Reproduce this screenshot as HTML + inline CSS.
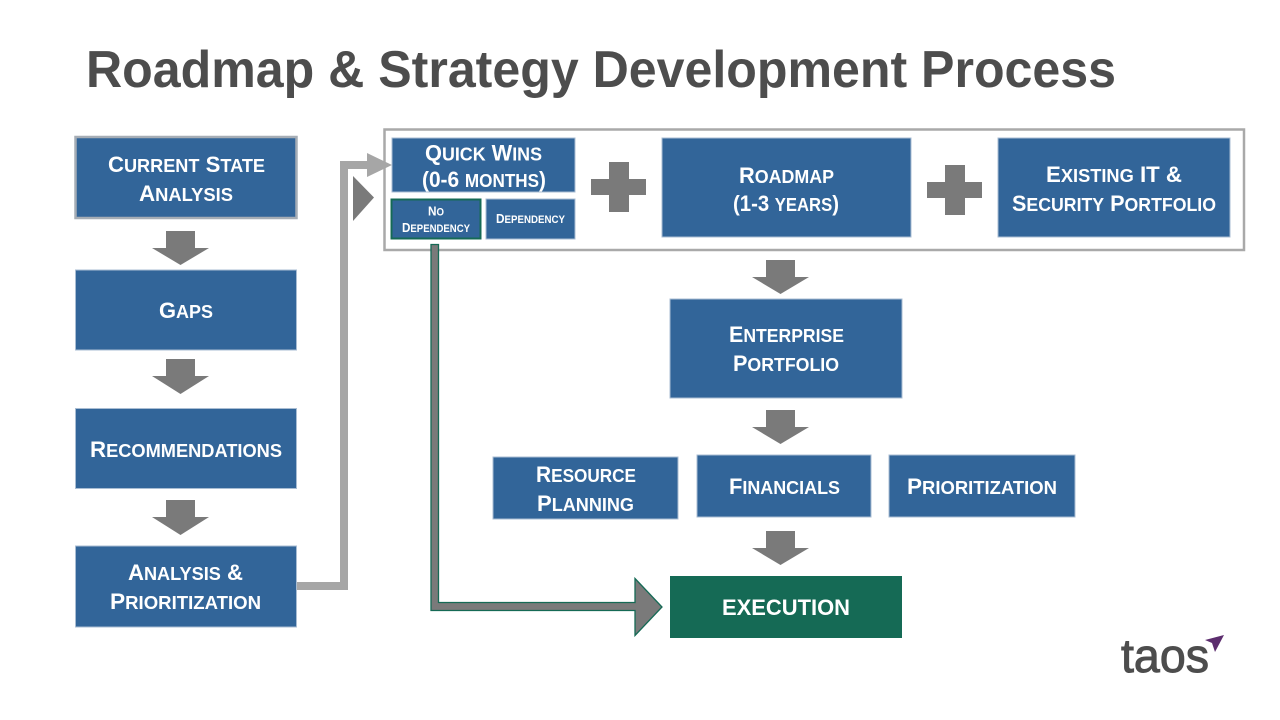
<!DOCTYPE html>
<html><head><meta charset="utf-8"><style>
html,body{margin:0;padding:0;background:#fff;width:1280px;height:720px;overflow:hidden}
svg{display:block}
text{font-family:"Liberation Sans",Arial,sans-serif;font-weight:700}
text.w{fill:#fff}
tspan.s{font-size:.82em}
.b{fill:#326599;stroke:#a9bdd3;stroke-width:1}
.g{fill:#7a7a7a}
</style></head><body>
<svg width="1280" height="720" viewBox="0 0 1280 720" xmlns="http://www.w3.org/2000/svg">
<rect width="1280" height="720" fill="#fff"/>
<text x="86" y="87" font-size="52" fill="#4d4d4d" textLength="1030" lengthAdjust="spacingAndGlyphs">Roadmap &amp; Strategy Development Process</text>

<rect x="384.500" y="129.500" width="859.500" height="120.500" fill="#fff" stroke="#a9a9a9" stroke-width="2.500"/>

<rect x="75.500" y="137" width="221" height="81" fill="#326599" stroke="#a6adb5" stroke-width="2.500"/>
<rect class="b" x="75.500" y="270" width="221" height="80"/>
<rect class="b" x="75.500" y="408.500" width="221" height="80"/>
<rect class="b" x="75.500" y="546" width="221" height="81"/>

<polygon class="g" points="166,231 195,231 195,248 209,248 180.500,265 152,248 166,248"/>
<polygon class="g" points="166,359 195,359 195,376 209,376 180.500,394 152,376 166,376"/>
<polygon class="g" points="166,500 195,500 195,517 209,517 180.500,535 152,517 166,517"/>

<polygon fill="#a6a6a6" points="297,582 340,582 340,161 367,161 367,153 392,165 367,177 367,169 348,169 348,590 297,590"/>
<polygon class="g" points="353,176 374,197.500 353,221"/>

<rect class="b" x="392" y="138" width="183" height="54"/>
<rect x="391.500" y="199.500" width="89" height="39" fill="#326599" stroke="#156a55" stroke-width="2"/>
<rect class="b" x="486" y="199" width="89" height="40"/>

<polygon class="g" points="609,162 629,162 629,179 646,179 646,195 629,195 629,212 609,212 609,195 591,195 591,179 609,179"/>
<polygon class="g" points="945,165 965,165 965,182 982,182 982,198 965,198 965,215 945,215 945,198 927,198 927,182 945,182"/>

<rect class="b" x="662" y="138" width="249" height="99"/>
<rect class="b" x="998" y="138" width="232" height="99"/>

<polygon class="g" points="766,260 795,260 795,277 809,277 780.500,294 752,277 766,277"/>
<rect class="b" x="670" y="299" width="232" height="99"/>
<polygon class="g" points="766,410 795,410 795,427 809,427 780.500,444 752,427 766,427"/>
<rect class="b" x="493" y="457" width="185" height="62"/>
<rect class="b" x="697" y="455" width="174" height="62"/>
<rect class="b" x="889" y="455" width="186" height="62"/>
<polygon class="g" points="766,531 795,531 795,548 809,548 780.500,565 752,548 766,548"/>
<rect x="670" y="576" width="232" height="62" fill="#156a55"/>

<polygon fill="#7a7a7a" stroke="#156a55" stroke-width="1.300" points="431,244.500 438.500,244.500 438.500,602.500 635,602.500 635,578.500 662,607 635,635.500 635,610.500 431,610.500"/>

<g font-size="22.500">
<text class="w" x="108" y="172" textLength="157" lengthAdjust="spacingAndGlyphs">C<tspan class="s">URRENT</tspan> S<tspan class="s">TATE</tspan></text>
<text class="w" x="139" y="201" textLength="94" lengthAdjust="spacingAndGlyphs">A<tspan class="s">NALYSIS</tspan></text>
<text class="w" x="159" y="318" textLength="54" lengthAdjust="spacingAndGlyphs">G<tspan class="s">APS</tspan></text>
<text class="w" x="90" y="457" textLength="192" lengthAdjust="spacingAndGlyphs">R<tspan class="s">ECOMMENDATIONS</tspan></text>
<text class="w" x="128" y="580" textLength="115" lengthAdjust="spacingAndGlyphs">A<tspan class="s">NALYSIS</tspan> &amp;</text>
<text class="w" x="110" y="609" textLength="151" lengthAdjust="spacingAndGlyphs">P<tspan class="s">RIORITIZATION</tspan></text>

<text class="w" x="425" y="160.500" textLength="117" lengthAdjust="spacingAndGlyphs">Q<tspan class="s">UICK</tspan> W<tspan class="s">INS</tspan></text>
<text class="w" x="422" y="187" textLength="124" lengthAdjust="spacingAndGlyphs">(0-6 <tspan class="s">MONTHS</tspan>)</text>

<text class="w" x="739" y="183" textLength="95" lengthAdjust="spacingAndGlyphs">R<tspan class="s">OADMAP</tspan></text>
<text class="w" x="733" y="211" textLength="106" lengthAdjust="spacingAndGlyphs">(1-3 <tspan class="s">YEARS</tspan>)</text>

<text class="w" x="1046" y="182" textLength="136" lengthAdjust="spacingAndGlyphs">E<tspan class="s">XISTING</tspan> IT &amp;</text>
<text class="w" x="1012" y="211" textLength="204" lengthAdjust="spacingAndGlyphs">S<tspan class="s">ECURITY</tspan> P<tspan class="s">ORTFOLIO</tspan></text>

<text class="w" x="729" y="342" textLength="115" lengthAdjust="spacingAndGlyphs">E<tspan class="s">NTERPRISE</tspan></text>
<text class="w" x="733" y="371" textLength="106" lengthAdjust="spacingAndGlyphs">P<tspan class="s">ORTFOLIO</tspan></text>

<text class="w" x="536" y="482" textLength="100" lengthAdjust="spacingAndGlyphs">R<tspan class="s">ESOURCE</tspan></text>
<text class="w" x="537" y="511" textLength="97" lengthAdjust="spacingAndGlyphs">P<tspan class="s">LANNING</tspan></text>
<text class="w" x="729" y="494" textLength="111" lengthAdjust="spacingAndGlyphs">F<tspan class="s">INANCIALS</tspan></text>
<text class="w" x="907" y="494" textLength="150" lengthAdjust="spacingAndGlyphs">P<tspan class="s">RIORITIZATION</tspan></text>
<text class="w" x="722" y="615" textLength="128" lengthAdjust="spacingAndGlyphs">EXECUTION</text>
</g>
<g font-size="13">
<text class="w" x="428" y="215.500" textLength="16" lengthAdjust="spacingAndGlyphs">N<tspan class="s">O</tspan></text>
<text class="w" x="402" y="232" textLength="68" lengthAdjust="spacingAndGlyphs">D<tspan class="s">EPENDENCY</tspan></text>
<text class="w" x="496" y="223" textLength="69" lengthAdjust="spacingAndGlyphs">D<tspan class="s">EPENDENCY</tspan></text>
</g>

<text x="1121" y="672" font-size="47" fill="#4d4d4d" style="font-weight:400" stroke="#4d4d4d" stroke-width="1" textLength="88" lengthAdjust="spacingAndGlyphs">taos</text>
<polygon fill="#5c2d6e" points="1224,635 1205,640 1212,643 1215,652"/>
</svg>
</body></html>
